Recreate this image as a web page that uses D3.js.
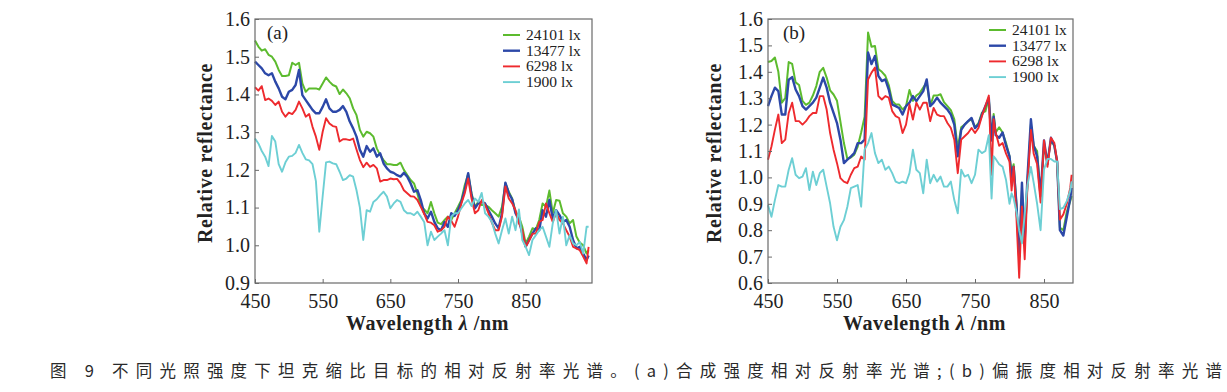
<!DOCTYPE html>
<html>
<head>
<meta charset="utf-8" />
<title>Relative reflectance</title>
<script src="https://d3js.org/d3.v7.min.js"></script>
<style>
  html, body { margin: 0; padding: 0; background: #fff; }
  svg { display: block; }
  .tick text { font-family: "Liberation Serif", "DejaVu Serif", serif; fill: #222; }
</style>
</head>
<body>
<svg width="1227" height="392"></svg>
<script>
// ---- data (a): intensity spectra
var waveA = [450,455,460,465,470,475,480,485,490,495,500,505,510,515,520,525,530,535,540,545,
  550,555,560,565,570,575,580,585,590,595,600,605,610,615,620,625,630,635,640,645,
  650,655,660,665,670,675,680,685,690,695,700,705,710,715,720,725,730,735,740,745,
  750,755,760,765,770,775,780,785,790,795,800,805,810,815,820,825,830,835,840,845,
  850,855,860,865,870,875,880,885,890,895,900,905,910,915,920,925,930,935,940,943];
var a24101 = [1.543,1.527,1.516,1.52,1.505,1.50,1.487,1.465,1.449,1.449,1.451,1.484,1.478,1.484,1.429,1.407,1.416,1.416,1.416,1.413,
  1.429,1.445,1.434,1.425,1.421,1.401,1.413,1.403,1.39,1.363,1.345,1.306,1.288,1.301,1.297,1.288,1.257,1.239,1.226,1.215,
  1.215,1.213,1.213,1.219,1.2,1.186,1.173,1.164,1.137,1.104,1.095,1.085,1.115,1.085,1.06,1.056,1.067,1.076,1.067,1.085,
  1.102,1.12,1.16,1.189,1.138,1.102,1.115,1.107,1.107,1.102,1.093,1.085,1.076,1.102,1.164,1.142,1.124,1.089,1.076,1.049,
  1.005,1.023,1.045,1.042,1.067,1.111,1.102,1.145,1.085,1.12,1.118,1.085,1.076,1.058,1.067,1.023,1.007,1.0,0.978,0.987];
var a13477 = [1.487,1.478,1.469,1.456,1.451,1.456,1.434,1.416,1.394,1.387,1.407,1.412,1.425,1.465,1.398,1.385,1.372,1.359,1.35,1.35,
  1.367,1.387,1.363,1.354,1.354,1.359,1.369,1.354,1.328,1.31,1.288,1.253,1.235,1.263,1.248,1.257,1.235,1.244,1.217,1.204,
  1.195,1.192,1.186,1.182,1.192,1.182,1.164,1.142,1.146,1.12,1.085,1.071,1.089,1.062,1.045,1.04,1.062,1.049,1.085,1.078,
  1.093,1.115,1.148,1.191,1.133,1.098,1.111,1.115,1.111,1.093,1.076,1.058,1.045,1.085,1.166,1.138,1.122,1.085,1.067,1.031,
  0.996,1.014,1.031,1.045,1.04,1.093,1.076,1.12,1.071,1.093,1.08,1.062,1.067,1.049,1.014,0.992,0.996,0.978,0.961,0.973];
var a6298 = [1.419,1.41,1.422,1.385,1.389,1.383,1.372,1.381,1.354,1.341,1.352,1.348,1.359,1.381,1.363,1.341,1.348,1.314,1.288,1.253,
  1.301,1.337,1.323,1.316,1.314,1.275,1.281,1.281,1.279,1.283,1.254,1.226,1.207,1.219,1.208,1.213,1.204,1.169,1.173,1.173,
  1.177,1.175,1.176,1.164,1.146,1.138,1.13,1.129,1.12,1.102,1.083,1.062,1.06,1.053,1.036,1.04,1.049,1.076,1.065,1.049,
  1.076,1.111,1.138,1.177,1.124,1.085,1.093,1.12,1.107,1.085,1.06,1.04,1.04,1.076,1.156,1.124,1.111,1.093,1.058,1.04,
  0.996,1.012,1.031,1.031,1.062,1.067,1.111,1.085,1.062,1.085,1.067,1.058,1.04,1.023,0.996,0.992,0.987,0.97,0.952,0.996];
var a1900 = [1.283,1.27,1.25,1.235,1.21,1.29,1.275,1.215,1.195,1.22,1.235,1.237,1.245,1.266,1.245,1.228,1.225,1.215,1.17,1.036,
  1.13,1.22,1.222,1.217,1.215,1.195,1.173,1.177,1.186,1.182,1.146,1.10,1.014,1.093,1.089,1.115,1.122,1.133,1.142,1.129,
  1.098,1.111,1.12,1.115,1.093,1.085,1.085,1.08,1.089,1.076,1.062,1.0,1.036,1.014,1.023,1.031,1.04,1.0,1.076,1.085,
  1.085,1.098,1.111,1.12,1.104,1.124,1.115,1.139,1.085,1.076,1.062,1.031,1.005,1.04,1.071,1.031,1.076,1.04,1.095,1.014,
  0.996,0.974,1.014,1.027,1.04,1.049,1.023,0.996,1.058,1.093,1.031,1.076,1.0,1.027,1.005,1.0,1.009,0.978,1.049,1.049];

// ---- data (b): degree-of-polarisation spectra
var waveB = [450,455,460,465,470,475,480,485,490,495,500,505,510,515,520,525,530,535,540,545,
  550,555,560,565,570,575,580,585,590,595,600,605,610,615,620,625,630,635,640,645,
  650,655,660,665,670,675,680,685,690,695,700,705,710,715,720,725,730,735,740,745,
  750,755,760,765,770,774,777,780,785,790,795,800,803,806,810,814,818,822,826,831,
  835,840,845,850,855,860,865,869,873,878,883,888,890];
var b24101 = [1.437,1.441,1.454,1.40,1.283,1.30,1.437,1.43,1.36,1.35,1.29,1.275,1.283,1.31,1.346,1.40,1.415,1.378,1.33,1.314,
  1.29,1.21,1.13,1.07,1.075,1.086,1.117,1.17,1.23,1.549,1.495,1.498,1.41,1.40,1.385,1.35,1.29,1.276,1.276,1.257,
  1.27,1.331,1.29,1.31,1.32,1.34,1.36,1.27,1.31,1.31,1.315,1.285,1.27,1.255,1.22,1.11,1.19,1.20,1.213,1.22,
  1.19,1.205,1.245,1.25,1.30,1.15,1.24,1.17,1.19,1.17,1.13,1.08,1.02,1.05,0.90,0.70,0.95,0.76,0.98,1.20,
  1.12,1.10,0.93,1.12,1.06,1.14,1.12,1.06,0.81,0.80,0.87,0.91,0.93];
var b13477 = [1.27,1.308,1.34,1.327,1.238,1.238,1.37,1.38,1.333,1.308,1.27,1.257,1.27,1.283,1.302,1.34,1.378,1.34,1.283,1.244,
  1.206,1.143,1.054,1.067,1.079,1.092,1.13,1.13,1.143,1.473,1.429,1.46,1.384,1.365,1.371,1.333,1.276,1.27,1.263,1.238,
  1.27,1.283,1.308,1.289,1.308,1.327,1.371,1.27,1.283,1.302,1.283,1.27,1.257,1.238,1.2,1.08,1.18,1.20,1.213,1.225,
  1.187,1.2,1.238,1.27,1.30,1.14,1.23,1.16,1.15,1.17,1.12,1.08,1.00,1.04,0.90,0.70,0.98,0.76,1.0,1.22,
  1.12,1.08,0.93,1.14,1.05,1.15,1.12,1.06,0.80,0.78,0.85,0.92,0.96];
var b6298 = [1.067,1.117,1.181,1.238,1.13,1.143,1.244,1.283,1.213,1.213,1.2,1.213,1.232,1.244,1.244,1.308,1.308,1.257,1.168,1.105,
  1.054,0.997,0.984,0.978,1.01,1.035,1.041,1.079,1.067,1.371,1.397,1.416,1.308,1.295,1.308,1.302,1.251,1.232,1.225,1.168,
  1.2,1.276,1.219,1.283,1.257,1.283,1.283,1.213,1.263,1.238,1.232,1.232,1.206,1.187,1.143,1.016,1.143,1.156,1.168,1.187,
  1.168,1.187,1.232,1.27,1.31,1.01,1.22,1.17,1.12,1.13,1.09,1.06,0.95,1.04,0.85,0.62,0.89,0.69,0.97,1.18,
  1.09,1.05,0.905,1.14,1.04,1.15,1.13,1.06,0.84,0.86,0.90,0.96,1.01];
var b1900 = [0.895,0.851,0.914,0.971,0.965,0.965,1.029,1.073,1.01,0.997,1.003,1.035,0.952,1.022,0.971,1.016,1.029,0.965,0.902,0.813,
  0.762,0.813,0.838,0.889,0.959,0.965,0.971,0.889,1.105,1.13,1.168,1.092,1.054,1.067,1.029,1.041,1.016,0.984,0.978,0.984,
  0.978,1.016,1.105,1.029,1.016,0.94,1.067,0.978,1.01,0.984,1.003,0.965,0.965,0.984,0.914,0.864,1.029,1.003,1.01,0.978,
  1.01,1.105,1.092,1.10,1.16,0.92,1.08,1.07,1.05,1.04,0.99,0.90,0.94,0.92,0.87,0.80,0.75,0.86,0.97,1.04,
  0.98,0.90,0.80,1.03,1.07,1.07,1.06,1.06,0.88,0.885,0.91,0.95,0.985];

var legendLabels = ["24101 lx", "13477 lx", "6298 lx", "1900 lx"];
var colors = ["#5cbb2e", "#2c48a8", "#ee2a2e", "#6dcfd4"];
var widths = [2, 2.4, 1.9, 1.9];
var xTicks = [450, 550, 650, 750, 850];
var yTicksA = [0.9, 1.0, 1.1, 1.2, 1.3, 1.4, 1.5, 1.6];
var yTicksB = [0.6, 0.7, 0.8, 0.9, 1.0, 1.1, 1.2, 1.3, 1.4, 1.5, 1.6];
var caption = "图 9  不同光照强度下坦克缩比目标的相对反射率光谱。(a)合成强度相对反射率光谱;(b)偏振度相对反射率光谱";

var svg = d3.select("svg");
var serif = '"Liberation Serif", "DejaVu Serif", serif';

function drawPanel(p) {
    var x = d3.scaleLinear().domain(p.xDomain).range([p.left, p.right]);
    var y = d3.scaleLinear().domain(p.yDomain).range([p.bottom, p.top]);
    var g = svg.append("g");

    // data lines
    var line = d3.line()
        .x(function (d) { return x(d[0]); })
        .y(function (d) { return y(d[1]); });
    p.series.forEach(function (s, i) {
        g.append("path")
            .datum(p.wave.map(function (w, j) { return [w, s[j]]; }))
            .attr("fill", "none")
            .attr("stroke", colors[i])
            .attr("stroke-width", widths[i])
            .attr("stroke-linejoin", "round")
            .attr("d", line);
    });

    // frame
    g.append("rect")
        .attr("x", p.left).attr("y", p.top)
        .attr("width", p.right - p.left).attr("height", p.bottom - p.top)
        .attr("fill", "none").attr("stroke", "#6a6a6a").attr("stroke-width", 1.2);

    var xa = g.append("g").attr("transform", "translate(0," + p.bottom + ")")
        .call(d3.axisBottom(x).tickValues(xTicks).tickSize(-4).tickPadding(11).tickFormat(d3.format("d")));
    var ya = g.append("g").attr("transform", "translate(" + p.left + ",0)")
        .call(d3.axisLeft(y).tickValues(p.yTicks).tickSize(-4).tickPadding(5).tickFormat(d3.format(".1f")));
    [xa, ya].forEach(function (a) {
        a.select(".domain").remove();
        a.selectAll(".tick line").attr("stroke", "#6a6a6a");
        a.selectAll(".tick text").attr("font-size", 20).attr("font-family", serif).attr("fill", "#222");
    });

    // axis titles
    var xt = svg.append("text")
        .attr("x", (p.left + p.right) / 2 + 4).attr("y", 330)
        .attr("text-anchor", "middle").attr("letter-spacing", 0.6)
        .attr("font-family", serif).attr("font-size", 20).attr("font-weight", "bold").attr("fill", "#222");
    xt.append("tspan").text("Wavelength ");
    xt.append("tspan").attr("font-style", "italic").text("λ");
    xt.append("tspan").text(" /nm");

    svg.append("text")
        .attr("transform", "translate(" + p.ytitleX + "," + ((p.top + p.bottom) / 2 + 2) + ") rotate(-90)")
        .attr("text-anchor", "middle").attr("letter-spacing", 0.6)
        .attr("font-family", serif).attr("font-size", 20).attr("font-weight", "bold").attr("fill", "#222")
        .text("Relative reflectance");

    // panel tag
    svg.append("text")
        .attr("x", p.tagX).attr("y", 39)
        .attr("font-family", serif).attr("font-size", 19).attr("fill", "#222")
        .text(p.tag);

    // legend
    legendLabels.forEach(function (lab, i) {
        var yy = p.legY + i * 15.7;
        svg.append("line")
            .attr("x1", p.legX).attr("x2", p.legX + 17)
            .attr("y1", yy).attr("y2", yy)
            .attr("stroke", colors[i]).attr("stroke-width", widths[i]);
        svg.append("text")
            .attr("x", p.legX + 23).attr("y", yy + 5)
            .attr("font-family", serif).attr("font-size", 15.5).attr("fill", "#222")
            .text(lab);
    });
}

drawPanel({
    wave: waveA, series: [a24101, a13477, a6298, a1900],
    xDomain: [450, 948], yDomain: [0.9, 1.6], yTicks: yTicksA,
    left: 255, right: 592, top: 19, bottom: 283,
    ytitleX: 212, tag: "(a)", tagX: 267, legX: 503, legY: 35
});

drawPanel({
    wave: waveB, series: [b24101, b13477, b6298, b1900],
    xDomain: [450, 892], yDomain: [0.6, 1.6], yTicks: yTicksB,
    left: 768, right: 1073, top: 19, bottom: 283,
    ytitleX: 721, tag: "(b)", tagX: 783, legX: 989, legY: 30
});

svg.append("text")
    .attr("x", 50).attr("y", 377)
    .attr("textLength", 1172).attr("lengthAdjust", "spacing")
    .attr("font-family", '"Noto Sans CJK SC", sans-serif').attr("font-size", 16.5)
    .attr("fill", "#2a2a2a")
    .text(caption);
</script>
</body>
</html>
